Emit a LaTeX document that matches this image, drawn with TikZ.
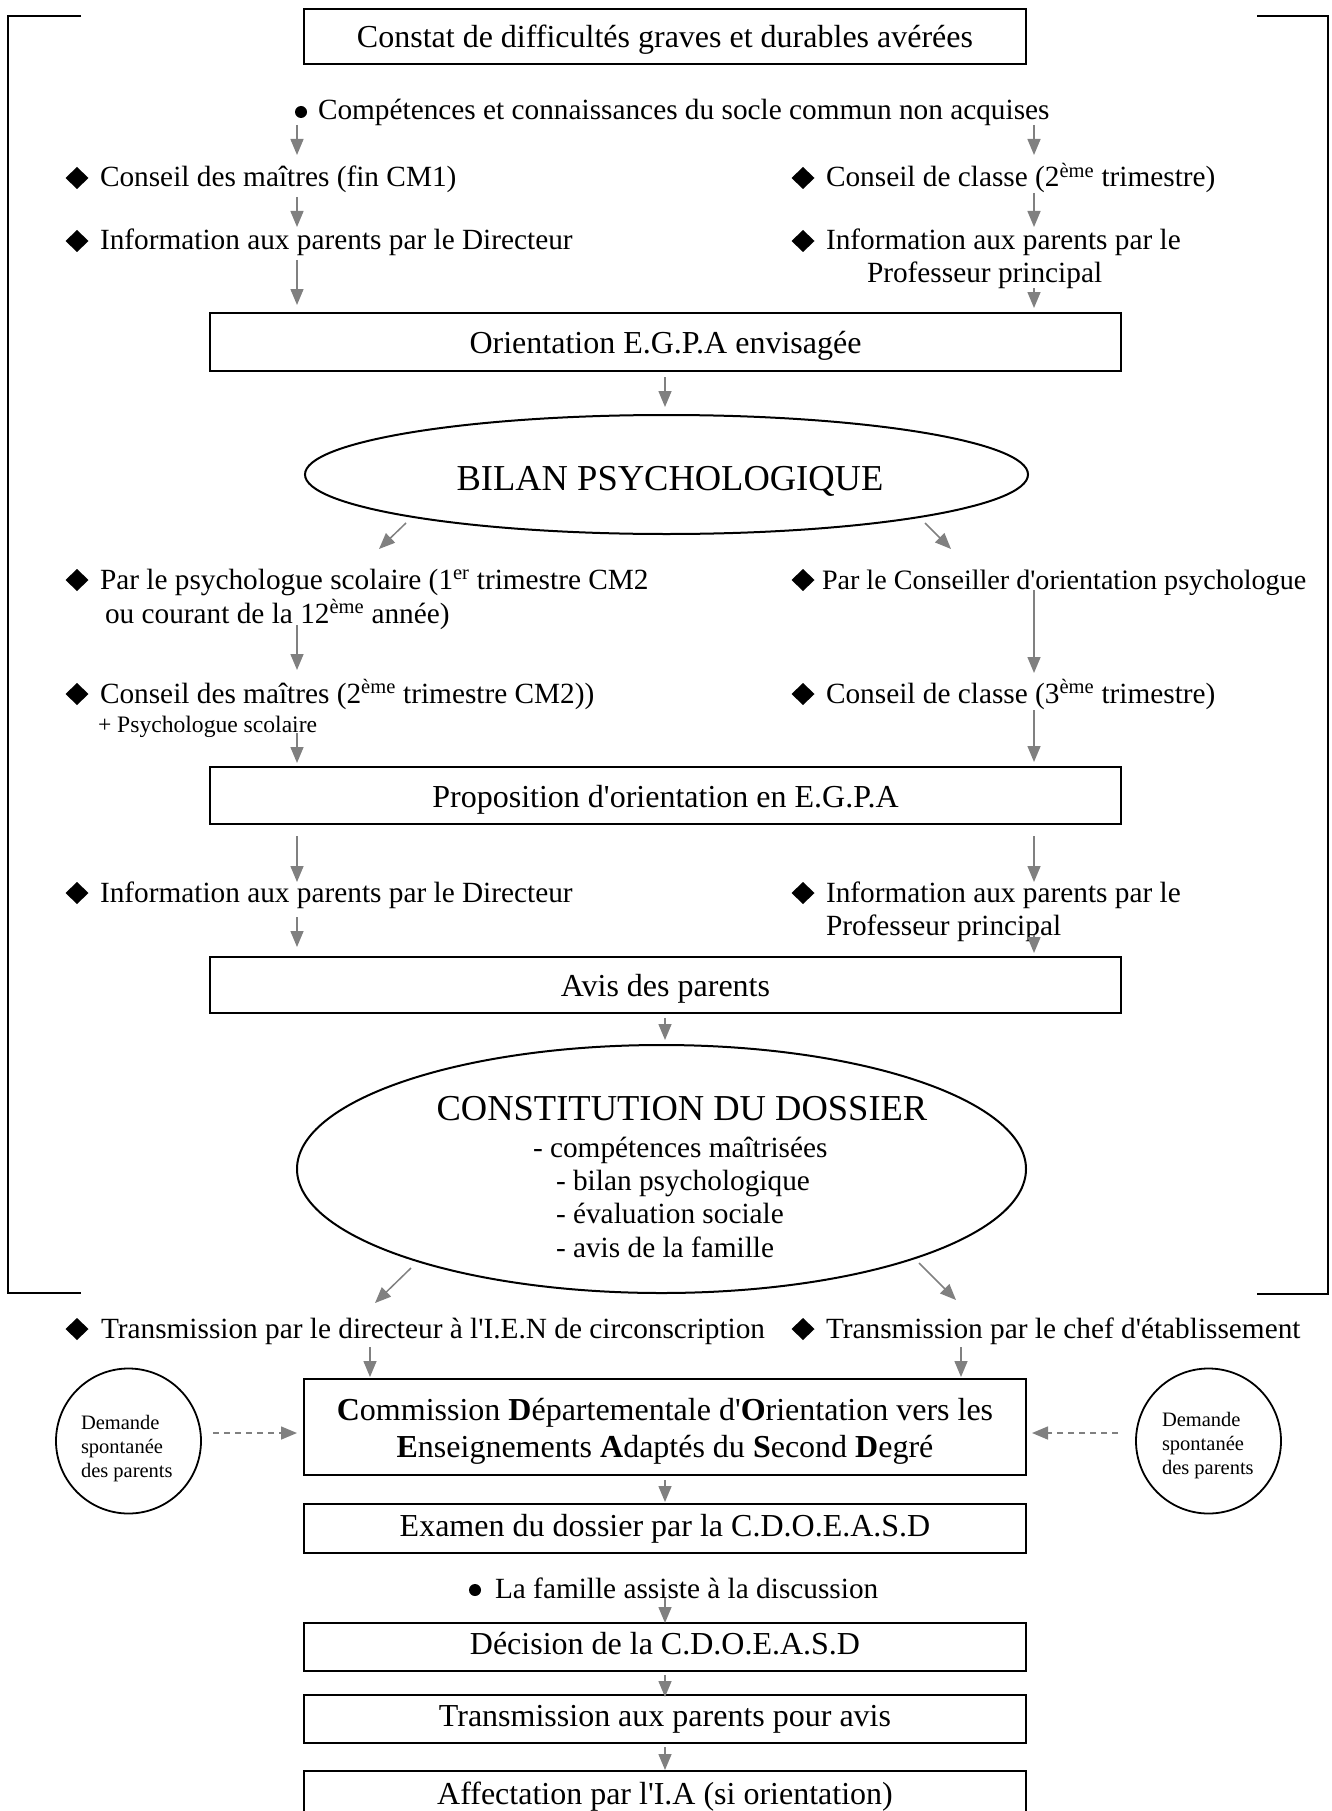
\documentclass[tikz,border=0pt]{standalone}
\usepackage{fontspec}
\setmainfont{Liberation Serif}[Ligatures=TeXOff]
\usetikzlibrary{arrows.meta,shapes.geometric}
\definecolor{arrowgray}{RGB}{128,128,128}

\tikzset{
  every node/.style={inner sep=0pt, outer sep=0pt},
  txt/.style={anchor=base west, font=\fontsize{29.3}{34}\selectfont},
  bigtxt/.style={anchor=base, font=\fontsize{36.5}{42}\selectfont},
  smalltxt/.style={anchor=base west, font=\fontsize{20.5}{24}\selectfont},
  psytxt/.style={anchor=base west, font=\fontsize{23.6}{28}\selectfont},
  stepbox/.style={draw, line width=2pt, rectangle, anchor=north west,
    font=\fontsize{32}{37}\selectfont, align=center},
  topbox/.style={stepbox, text height=25pt, text depth=2pt},
  lowbox/.style={stepbox, text height=22pt, text depth=7pt},
  oval/.style={draw, ellipse, line width=2pt},
  request/.style={draw, circle, line width=1.8pt, minimum size=145pt},
  flow/.style={draw=arrowgray, line width=1.5pt, -{Triangle[length=16pt,width=13pt]}},
  dflow/.style={flow, dash pattern=on 6pt off 5pt},
  diam/.style={diamond, fill=black, minimum width=23pt, minimum height=22pt},
  dot/.style={circle, fill=black, minimum size=12pt},
  bracket/.style={draw, line width=2pt},
}

\begin{document}
\begin{tikzpicture}[x=1pt, y=-1pt]
\useasboundingbox (0,0) rectangle (1332,1811);
\clip (0,0) rectangle (1332,1811);

% side brackets
\coordinate (lbt) at (81,16);  \coordinate (lbb) at (81,1293);
\coordinate (rbt) at (1257,16); \coordinate (rbb) at (1257,1294);
\draw[bracket] (lbt) -- (8,16) -- (8,1293) -- (lbb);
\draw[bracket] (rbt) -- (1328,16) -- (1328,1294) -- (rbb);

% main boxes
\node[topbox, minimum width=722pt, minimum height=55pt] (constat) at (304,9)
  {Constat de difficultés graves et durables avérées};
\node[topbox, minimum width=911pt, minimum height=58pt] (orient) at (210,313)
  {Orientation E.G.P.A envisagée};
\node[topbox, minimum width=911pt, minimum height=57pt] (propo) at (210,767)
  {Proposition d'orientation en E.G.P.A};
\node[topbox, minimum width=911pt, minimum height=56pt] (avis) at (210,957)
  {Avis des parents};
\node[stepbox, text height=67pt, minimum width=722pt, minimum height=96pt] (cdo) at (304,1379)
  {\textbf{C}ommission \textbf{D}épartementale d'\textbf{O}rientation vers les\\
   \textbf{E}nseignements \textbf{A}daptés du \textbf{S}econd \textbf{D}egré};
\node[lowbox, minimum width=722pt, minimum height=49pt] (examen) at (304,1504)
  {Examen du dossier par la C.D.O.E.A.S.D};
\node[lowbox, minimum width=722pt, minimum height=48pt] (decision) at (304,1623)
  {Décision de la C.D.O.E.A.S.D};
\node[lowbox, minimum width=722pt, minimum height=48pt] (transp) at (304,1695)
  {Transmission aux parents pour avis};
\node[lowbox, minimum width=722pt, minimum height=52pt] (affect) at (304,1771)
  {Affectation par l'I.A (si orientation)};

% first bullet line
\node[dot] (dot1) at (301,112) {};
\node[txt] (comp) at (318,120) {Compétences et connaissances du socle commun non acquises};

% left column, upper part
\node[diam] (dl1) at (77,178) {};
\node[txt] (cm1) at (100,187) {Conseil des maîtres (fin CM1)};
\node[diam] (dl2) at (77,241) {};
\node[txt] (infod1) at (100,250) {Information aux parents par le Directeur};

% right column, upper part
\node[diam] (dr1) at (803,178) {};
\node[txt] (cc2) at (826,187) {Conseil de classe (2\textsuperscript{ème} trimestre)};
\node[diam] (dr2) at (803,241) {};
\node[txt] (infop1) at (826,250) {Information aux parents par le};
\node[txt] (infop1b) at (867,283) {Professeur principal};

% psychological assessment
\node[oval, minimum width=723pt, minimum height=119pt] (bilan) at (666.5,474.5) {};
\node[bigtxt] (bilant) at (670,490) {BILAN PSYCHOLOGIQUE};

\node[diam] (dl3) at (77,580) {};
\node[txt] (psy1) at (100,589) {Par le psychologue scolaire (1\textsuperscript{er} trimestre CM2};
\node[txt] (psy1b) at (105,623) {ou courant de la 12\textsuperscript{ème} année)};
\node[diam] (dr3) at (803,580) {};
\node[txt, font=\fontsize{28.1}{33}\selectfont] (cop) at (822,589) {Par le Conseiller d'orientation psychologue};

\node[diam] (dl4) at (77,694) {};
\node[txt] (cm2) at (100,703) {Conseil des maîtres (2\textsuperscript{ème} trimestre CM2))};
\node[psytxt] (psyplus) at (98,732) {+ Psychologue scolaire};
\node[diam] (dr4) at (803,694) {};
\node[txt] (cc3) at (826,703) {Conseil de classe (3\textsuperscript{ème} trimestre)};

% information after the proposal
\node[diam] (dl5) at (77,893) {};
\node[txt] (infod2) at (100,902) {Information aux parents par le Directeur};
\node[diam] (dr5) at (803,893) {};
\node[txt] (infop2) at (826,902) {Information aux parents par le};
\node[txt] (infop2b) at (826,935) {Professeur principal};

% file constitution
\node[oval, minimum width=729pt, minimum height=248pt] (dossier) at (661.5,1169) {};
\node[bigtxt] (dossiert) at (682,1120) {CONSTITUTION DU DOSSIER};
\node[txt] (dos1) at (533,1157) {- compétences maîtrisées};
\node[txt] (dos2) at (556,1190) {- bilan psychologique};
\node[txt] (dos3) at (556,1223) {- évaluation sociale};
\node[txt] (dos4) at (556,1257) {- avis de la famille};

% transmission
\node[diam] (dl6) at (77,1329) {};
\node[txt] (transd) at (101,1338) {Transmission par le directeur à l'I.E.N de circonscription};
\node[diam] (dr6) at (803,1329) {};
\node[txt] (transc) at (826,1338) {Transmission par le chef d'établissement};

% spontaneous requests
\node[request] (dsl) at (128.5,1441) {};
\node[smalltxt] (dsl1) at (81,1429) {Demande};
\node[smalltxt] (dsl2) at (81,1453) {spontanée};
\node[smalltxt] (dsl3) at (81,1477) {des parents};
\node[request] (dsr) at (1208.5,1441) {};
\node[smalltxt] (dsr1) at (1162,1426) {Demande};
\node[smalltxt] (dsr2) at (1162,1450) {spontanée};
\node[smalltxt] (dsr3) at (1162,1474) {des parents};

% family attends
\node[dot] (dot2) at (475,1590) {};
\node[txt] (famille) at (495,1598) {La famille assiste à la discussion};

% arrows
\foreach \n/\a/\b in {
  c1/{297,125}/{297,155}, c2/{1034,125}/{1034,155},
  c3/{297,197}/{297,227}, c4/{1034,193}/{1034,227},
  c5/{297,260}/{297,305}, c6/{1034,288}/{1034,308},
  c7/{665,377}/{665,407},
  c8/{406,523}/{379,549}, c9/{925,523}/{951,549},
  c10/{297,625}/{297,670}, c11/{1034,590}/{1034,673},
  c12/{297,733}/{297,763}, c13/{1034,710}/{1034,762},
  c14/{297,836}/{297,882}, c15/{1034,836}/{1034,882},
  c16/{297,917}/{297,947}, c17/{1034,935}/{1034,953},
  c18/{665,1018}/{665,1040},
  c19/{411,1268}/{375,1303}, c20/{919,1263}/{956,1300},
  c21/{370,1347}/{370,1377}, c22/{961,1347}/{961,1377},
  c25/{665,1480}/{665,1502}, c26/{665,1598}/{665,1623},
  c27/{665,1675}/{665,1697}, c28/{665,1747}/{665,1770}}
{
  \coordinate (\n s) at (\a);
  \coordinate (\n e) at (\b);
  \draw[flow] (\n s) -- (\n e);
}

% dashed arrows from the spontaneous requests
\coordinate (dlS) at (213,1433); \coordinate (dlE) at (297,1433);
\coordinate (drS) at (1118,1433); \coordinate (drE) at (1032,1433);
\draw[dflow] (dlS) -- (dlE);
\draw[dflow] (drS) -- (drE);
\end{tikzpicture}
\end{document}
